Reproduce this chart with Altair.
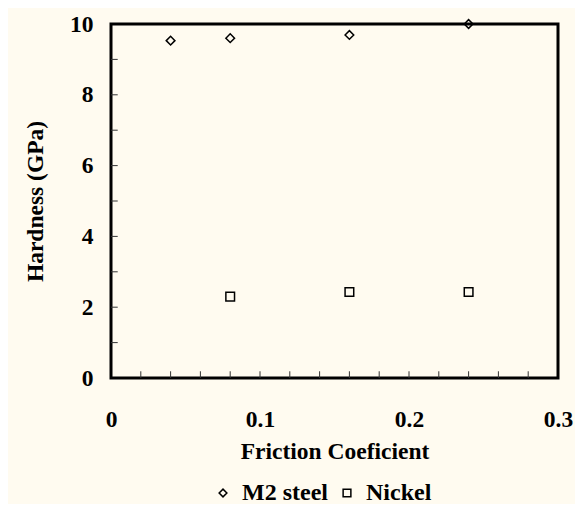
import altair as alt
import pandas as pd

series = ["M2 steel", "M2 steel", "M2 steel", "M2 steel", "Nickel", "Nickel", "Nickel"]
friction = [0.04, 0.08, 0.16, 0.24, 0.08, 0.16, 0.24]
hardness = [9.53, 9.60, 9.69, 10.0, 2.30, 2.43, 2.43]

x_ticks = [0, 0.1, 0.2, 0.3]
y_ticks = [0, 2, 4, 6, 8, 10]
x_minor = [0.02, 0.04, 0.06, 0.08, 0.1, 0.12, 0.14, 0.16, 0.18, 0.2, 0.22, 0.24, 0.26, 0.28]
y_minor = [1, 2, 3, 4, 5, 6, 7, 8, 9]

df = pd.DataFrame({"Series": series, "Friction": friction, "Hardness": hardness})
dfx = pd.DataFrame({"t": x_minor})
dfy = pd.DataFrame({"t": y_minor})

FONT = "Liberation Serif"

xscale = alt.Scale(domain=[0, 0.3], nice=False)
yscale = alt.Scale(domain=[0, 10], nice=False)

points = alt.Chart(df).mark_point(filled=False, size=75, strokeWidth=1.5, opacity=1, color="black").encode(
    x=alt.X("Friction:Q", scale=xscale,
            axis=alt.Axis(title="Friction Coeficient", values=x_ticks, format="~g", labelFlush=False,
                          labelFont=FONT, titleFont=FONT,
                          labelPadding=29, titlePadding=9, ticks=False, grid=False)),
    y=alt.Y("Hardness:Q", scale=yscale,
            axis=alt.Axis(title="Hardness (GPa)", values=y_ticks, format="d", labelFlush=False,
                          labelFont=FONT, titleFont=FONT,
                          labelPadding=18, titlePadding=22, ticks=False, grid=False)),
    shape=alt.Shape("Series:N", scale=alt.Scale(domain=["M2 steel", "Nickel"], range=["diamond", "square"]),
                    legend=alt.Legend(title=None, orient="none", direction="horizontal",
                                      legendX=100, legendY=457, labelFont=FONT,
                                      symbolSize=60, symbolStrokeWidth=1.5, symbolStrokeColor="black",
                                      symbolFillColor="transparent", columnPadding=7, labelOffset=7)),
)

xt = alt.Chart(dfx).mark_rule(color="#333", strokeWidth=1).encode(
    x=alt.X("t:Q", scale=xscale), y=alt.datum(0), y2=alt.datum(0.19)
)
yt = alt.Chart(dfy).mark_rule(color="#333", strokeWidth=1).encode(
    y=alt.Y("t:Q", scale=yscale), x=alt.datum(0), x2=alt.datum(0.0045)
)

chart = alt.layer(xt, yt, points).properties(
    width=447, height=354,
    background="#FFFBF0",
    autosize=alt.AutoSizeParams(type="none"),
    padding={"left": 103, "top": 16, "right": 17, "bottom": 126},
).configure(
    font=FONT
).configure_view(
    stroke="black", strokeWidth=3, fill="#FFFBF0"
).configure_axis(
    domain=False,
    labelFontSize=23.5, labelFontWeight="bold", labelColor="black",
    titleFontSize=23.5, titleFontWeight="bold", titleColor="black",
).configure_legend(
    labelFontSize=24, labelFontWeight="bold", labelColor="black",
)

chart.save("out.html", embed_options={"renderer": "svg", "actions": False})
